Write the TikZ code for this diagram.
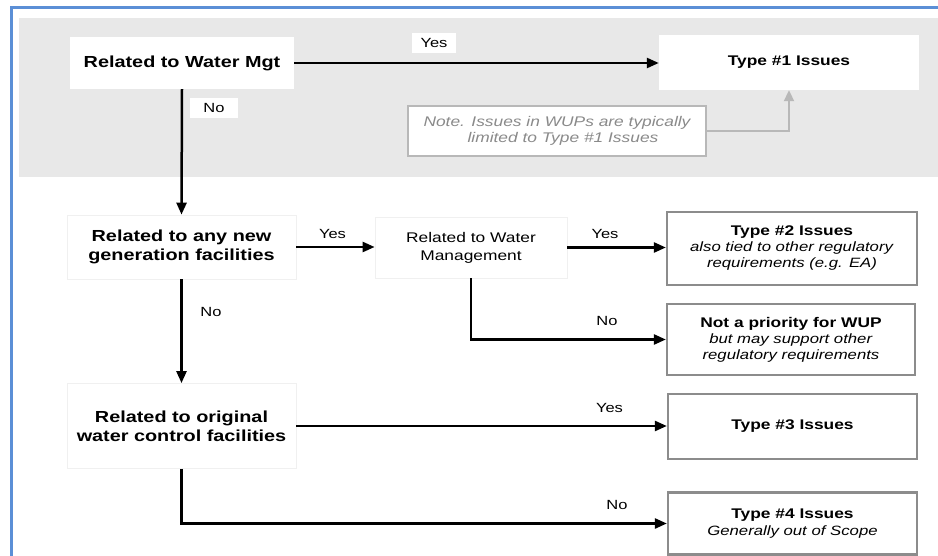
\documentclass[tikz,border=0pt]{standalone}
\usepackage{fontspec}
\setmainfont{Liberation Sans}[FakeStretch=1.24]
\usetikzlibrary{arrows.meta}
\definecolor{frameblue}{HTML}{5B8FD6}
\definecolor{bandgray}{HTML}{E8E8E8}
\definecolor{boxgray}{HTML}{8C8C8C}
\definecolor{notegray}{HTML}{B8B8B8}
\definecolor{notetext}{HTML}{8A8A8A}
\definecolor{faint}{HTML}{F0F0F0}
\tikzset{
  cond/.style={draw=faint, line width=0.8pt, fill=white, inner sep=0pt, align=center,
    font=\fontsize{16}{19}\selectfont\bfseries},
  plainbox/.style={draw=faint, line width=0.8pt, fill=white, inner sep=0pt, align=center,
    font=\fontsize{14}{18}\selectfont},
  outbox/.style={draw=boxgray, line width=2.3pt, fill=white, inner sep=0pt, align=center,
    font=\fontsize{13.5}{16}\selectfont},
  topbox/.style={fill=white, inner sep=0pt, align=center, font=\fontsize{14}{16}\selectfont\bfseries},
  notebox/.style={draw=notegray, line width=1.8pt, fill=white, inner sep=0pt, align=center,
    text=notetext, font=\fontsize{14}{16}\selectfont\itshape},
  lbl/.style={fill=white, inner sep=0pt, minimum width=46pt, minimum height=19pt,
    font=\fontsize{13.3}{15}\selectfont},
  conn/.style={line width=2.5pt, -{Triangle[length=12pt,width=10pt]}},
  noteconn/.style={draw=notegray, line width=2pt, -{Triangle[length=11pt,width=10pt]}}
}
\begin{document}
\begin{tikzpicture}[x=1pt,y=-1pt]
\useasboundingbox (0,0) rectangle (938,556);
\fill[white] (0,0) rectangle (938,556);
% gray band
\fill[bandgray] (19,18) rectangle (938,177);
% blue frame
\draw[frameblue, line width=3pt] (11,556) -- (11,8) -- (938,8);

% nodes
\node[topbox, font=\fontsize{16}{19}\selectfont\bfseries, minimum width=224pt, minimum height=52pt] (wm) at (182,63) {Related to Water Mgt};
\node[topbox, minimum width=260pt, minimum height=55pt] (t1) at (789,62.5) {Type \#1 Issues};
\node[notebox, minimum width=298pt, minimum height=50pt] (note) at (557,131)
  {Note. Issues in WUPs are typically\\\hspace*{12pt}limited to Type \#1 Issues};

\node[cond, minimum width=229pt, minimum height=64pt] (gen) at (181.5,247)
  {Related to any new\\generation facilities};
\node[plainbox, minimum width=192pt, minimum height=61pt] (wm2) at (471,247.5)
  {Related to Water\\Management};
\node[outbox, minimum width=250pt, minimum height=73pt] (t2) at (792,248.5)
  {\textbf{\fontsize{14}{16}\selectfont Type \#2 Issues}\\\textit{also tied to other regulatory}\\\textit{requirements (e.g. EA)}};
\node[outbox, minimum width=248pt, minimum height=71pt] (np) at (791,339.5)
  {\textbf{\fontsize{14}{16.5}\selectfont Not a priority for WUP}\\\textit{but may support other}\\\textit{regulatory requirements}};

\node[cond, minimum width=229pt, minimum height=85pt] (orig) at (181.5,426)
  {Related to original\\water control facilities};
\node[outbox, minimum width=249pt, minimum height=65pt] (t3) at (792.5,426.5)
  {\textbf{\fontsize{14}{16}\selectfont Type \#3 Issues}};
\node[outbox, font=\fontsize{13.5}{17.5}\selectfont, minimum width=249pt, minimum height=62pt] (t4) at (792.5,523.5)
  {\textbf{\fontsize{14}{17.5}\selectfont Type \#4 Issues}\\\textit{Generally out of Scope}};

% connectors
\draw[conn] (wm.east) -- (t1.west |- wm.east);
\draw[noteconn] (note.east) -| (t1.south);
\draw[conn] (wm.south) -- (gen.north);
\draw[conn] (gen.east) -- (wm2.west |- gen.east);
\draw[conn] (wm2.east) -- (t2.west |- wm2.east);
\draw[conn] (wm2.south) |- (np.west);
\draw[conn] (gen.south) -- (orig.north);
\draw[conn] (orig.east) -- (t3.west |- orig.east);
\draw[conn] (orig.south) |- (t4.west);

% labels
\node[lbl, minimum width=44pt, minimum height=20pt] (y1) at (434,43) {Yes};
\node[lbl, minimum width=48pt, minimum height=20pt] (n1) at (214,108) {No};
\node[lbl] (y2) at (332.5,234) {Yes};
\node[lbl] (y3) at (605,234) {Yes};
\node[lbl] (n2) at (607,321) {No};
\node[lbl] (n3) at (211,312) {No};
\node[lbl] (y4) at (609.5,408) {Yes};
\node[lbl] (n4) at (617,505) {No};
\end{tikzpicture}
\end{document}
